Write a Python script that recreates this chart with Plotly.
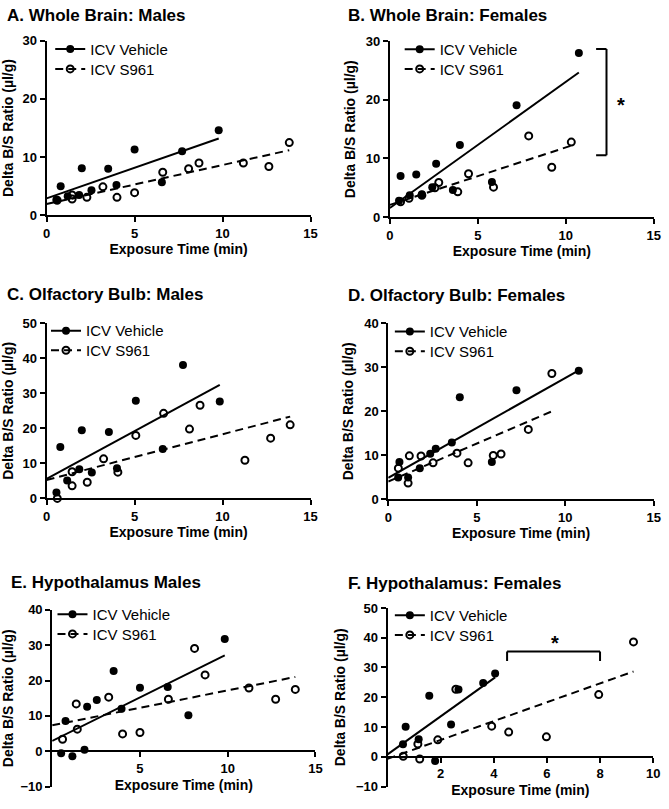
import numpy as np
import plotly.graph_objects as go

W, H = 669, 809
FONT = "Liberation Sans, Arial, sans-serif"

# ---------------- data ----------------
panel_titles = ["A. Whole Brain: Males", "B. Whole Brain: Females",
                "C. Olfactory Bulb: Males", "D. Olfactory Bulb: Females",
                "E. Hypothalamus Males", "F. Hypothalamus: Females"]
series_names = ["ICV Vehicle", "ICV S961"]
x_title = "Exposure Time (min)"
y_title = "Delta B/S Ratio (µl/g)"

# A. Whole brain, males
a_veh_x = [0.56, 0.8, 1.2, 1.85, 2.0, 2.55, 3.5, 3.97, 5.0, 6.55, 7.7, 9.78]
a_veh_y = [2.7, 5.0, 3.3, 3.5, 8.1, 4.3, 8.0, 5.2, 11.3, 5.7, 11.0, 14.6]
a_s961_x = [0.6, 1.45, 1.45, 2.29, 3.2, 4.0, 5.0, 6.6, 8.07, 8.66, 11.18, 12.63, 13.79]
a_s961_y = [2.6, 2.8, 3.5, 3.1, 4.9, 3.1, 3.9, 7.4, 8.0, 9.0, 9.0, 8.4, 12.5]

# B. Whole brain, females
b_veh_x = [0.52, 0.61, 1.13, 1.5, 1.82, 2.41, 2.63, 3.58, 3.98, 5.8, 7.2, 10.74]
b_veh_y = [2.8, 7.0, 3.7, 7.25, 3.9, 5.1, 9.1, 4.6, 12.3, 6.0, 19.1, 28.0]
b_s961_x = [0.61, 1.09, 1.82, 2.56, 2.78, 3.86, 4.47, 5.89, 7.89, 9.2, 10.31]
b_s961_y = [2.6, 3.2, 3.7, 5.0, 5.9, 4.3, 7.4, 5.1, 13.85, 8.5, 12.8]

# C. Olfactory bulb, males
c_veh_x = [0.56, 0.78, 1.17, 1.86, 2.0, 2.57, 3.54, 4.0, 5.07, 6.6, 7.75, 9.84]
c_veh_y = [1.7, 14.7, 5.1, 8.3, 19.5, 7.4, 19.0, 8.6, 27.9, 14.1, 38.1, 27.7]
c_s961_x = [0.61, 1.45, 1.45, 2.31, 3.24, 4.05, 5.07, 6.65, 8.12, 8.72, 11.27, 12.73, 13.84]
c_s961_y = [0.0, 3.6, 7.6, 4.6, 11.3, 7.5, 18.0, 24.3, 19.8, 26.6, 10.9, 17.2, 21.0]

# D. Olfactory bulb, females
d_veh_x = [0.56, 0.63, 1.12, 1.78, 2.37, 2.68, 3.59, 4.04, 5.85, 7.24, 10.76]
d_veh_y = [5.0, 8.5, 5.0, 7.1, 10.35, 11.5, 12.95, 23.2, 8.5, 24.8, 29.2]
d_s961_x = [0.57, 1.12, 1.19, 1.85, 2.53, 3.88, 4.51, 5.93, 6.37, 7.91, 9.24]
d_s961_y = [7.1, 3.7, 9.9, 9.85, 8.3, 10.5, 8.3, 10.0, 10.3, 15.9, 28.6]

# E. Hypothalamus, males
e_veh_x = [0.51, 0.76, 1.15, 1.84, 1.99, 2.54, 3.5, 3.95, 5.0, 6.58, 7.76, 9.83]
e_veh_y = [-0.6, 8.55, -1.4, 0.45, 12.6, 14.5, 22.7, 12.0, 18.0, 18.2, 10.2, 31.8]
e_s961_x = [0.59, 1.37, 1.43, 3.22, 4.01, 5.0, 6.62, 8.11, 8.71, 11.21, 12.73, 13.85]
e_s961_y = [3.4, 13.4, 6.25, 15.3, 4.9, 5.3, 14.7, 29.1, 21.6, 17.9, 14.7, 17.5]

# F. Hypothalamus, females
f_veh_x = [0.58, 0.68, 1.17, 1.57, 1.79, 2.39, 2.67, 3.6, 4.05]
f_veh_y = [4.25, 10.1, 5.9, 20.5, -1.4, 10.85, 22.6, 24.8, 28.0]
f_s961_x = [0.59, 1.14, 1.21, 1.89, 2.57, 3.92, 4.56, 5.98, 7.95, 9.26]
f_s961_y = [0.2, 4.3, -0.75, 5.7, 22.7, 10.3, 8.3, 6.7, 20.9, 38.6]

x_ranges = [[0, 15], [0, 15], [0, 15], [0, 15], [0, 15], [0, 10]]
y_ranges = [[0, 30], [0, 30], [0, 50], [0, 40], [-10, 40], [-10, 50]]
x_tickvals = [[0, 5, 10, 15], [0, 5, 10, 15], [0, 5, 10, 15], [0, 5, 10, 15],
              [5, 10, 15], [2, 4, 6, 8, 10]]
y_tickvals = [[0, 10, 20, 30], [0, 10, 20, 30], [0, 10, 20, 30, 40, 50],
              [0, 10, 20, 30, 40], [-10, 0, 10, 20, 30, 40],
              [-10, 0, 10, 20, 30, 40, 50]]

veh_x = [a_veh_x, b_veh_x, c_veh_x, d_veh_x, e_veh_x, f_veh_x]
veh_y = [a_veh_y, b_veh_y, c_veh_y, d_veh_y, e_veh_y, f_veh_y]
s961_x = [a_s961_x, b_s961_x, c_s961_x, d_s961_x, e_s961_x, f_s961_x]
s961_y = [a_s961_y, b_s961_y, c_s961_y, d_s961_y, e_s961_y, f_s961_y]

# ---------------- layout geometry (pixels) ----------------
# (left, right, top, bottom) of each plot area
boxes = [(43.3, 311.7, 34.3, 212.3), (392.3, 660.7, 35.0, 214.0),
         (43.3, 311.7, 322.3, 500.7), (390.7, 660.7, 322.3, 501.7),
         (49.0, 316.7, 614.3, 794.3), (390.0, 660.0, 612.3, 794.3)]
title_pos = [(1, 9), (348, 9), (1, 293), (348, 294), (5, 586), (348, 587)]
# legend: left edge of legend box (text starts ~40px to the right), row centres
legend_left = [47, 402.3, 42.7, 392.3, 49.3, 392.3]
legend_rows = [(43, 63.3), (43.3, 63.3), (330, 350), (331, 351), (619, 639), (620, 640)]

fig = go.Figure()
layout = dict(width=W, height=H, margin=dict(l=0, r=0, t=0, b=0),
              plot_bgcolor="white", paper_bgcolor="white",
              font=dict(family=FONT, color="black"), annotations=[], shapes=[])

veh_style = dict(marker=dict(symbol="circle", size=8, color="black"))
s961_style = dict(marker=dict(symbol="circle-open", size=7, color="black",
                              line=dict(width=2, color="black")))

leg_count = 0
for i in range(6):
    n = i + 1
    sfx = "" if n == 1 else str(n)
    xa, ya = "x" + sfx, "y" + sfx
    l, r, t, b = boxes[i]
    xdom = [l / W, r / W]
    ydom = [1 - b / H, 1 - t / H]

    for k, (xs, ys, name, style, dash) in enumerate([
        (veh_x[i], veh_y[i], series_names[0], veh_style, "solid"),
        (s961_x[i], s961_y[i], series_names[1], s961_style, "8px,5px"),
    ]):
        slope, icpt = np.polyfit(xs, ys, 1)
        fx = [0, max(xs)]
        fy = [icpt + slope * v for v in fx]
        fig.add_trace(go.Scatter(x=fx, y=fy, mode="lines", xaxis=xa, yaxis=ya,
                                 line=dict(color="black", width=2, dash=dash),
                                 showlegend=False, hoverinfo="skip", cliponaxis=False))
        fig.add_trace(go.Scatter(x=xs, y=ys, mode="markers", xaxis=xa, yaxis=ya,
                                 showlegend=False, cliponaxis=False, name=name, **style))
        # legend entry (one legend per row for exact placement)
        leg_count += 1
        leg = "legend" if leg_count == 1 else "legend%d" % leg_count
        fig.add_trace(go.Scatter(x=[None], y=[None], mode="lines+markers", xaxis=xa, yaxis=ya,
                                 name=name, legend=leg,
                                 line=dict(color="black", width=2, dash=dash), **style))
        layout[leg] = dict(x=legend_left[i] / W, y=1 - legend_rows[i][k] / H,
                           xanchor="left", yanchor="middle",
                           bgcolor="rgba(0,0,0,0)", itemwidth=30,
                           font=dict(family=FONT, size=15, color="black"))

    axis_common = dict(showline=True, linewidth=2, linecolor="black", ticks="outside",
                       ticklen=5, tickwidth=2, tickcolor="black", showgrid=False,
                       zeroline=False, fixedrange=True,
                       tickfont=dict(family=FONT, size=13, weight="bold", color="black"))
    xaxis = dict(domain=xdom, range=x_ranges[i], tickvals=x_tickvals[i],
                 title=dict(text=x_title, standoff=4,
                            font=dict(family=FONT, size=14, weight="bold")),
                 **axis_common)
    y0, y1 = y_ranges[i]
    if y0 < 0:
        xaxis["anchor"] = "free"
        xaxis["position"] = ydom[0] + (0 - y0) / (y1 - y0) * (ydom[1] - ydom[0])
    else:
        xaxis["anchor"] = ya
    yaxis = dict(domain=ydom, range=y_ranges[i], tickvals=y_tickvals[i], anchor=xa,
                 title=dict(text=y_title, standoff=7,
                            font=dict(family=FONT, size=14, weight="bold")),
                 **axis_common)
    layout["xaxis" + sfx] = xaxis
    layout["yaxis" + sfx] = yaxis

    tx, ty = title_pos[i]
    layout["annotations"].append(dict(text=panel_titles[i], x=tx / W, y=1 - ty / H,
                                      xref="paper", yref="paper", xanchor="left",
                                      yanchor="middle", showarrow=False,
                                      font=dict(family=FONT, size=17, weight="bold")))

# significance brackets
br_b = dict(x_in=11.72, x_out=12.31, y_top=28.7, y_bot=10.56, star_x=13.15, star_y=19.2)
for (x0, y0_, x1, y1_) in [(br_b["x_out"], br_b["y_top"], br_b["x_out"], br_b["y_bot"]),
                          (br_b["x_in"], br_b["y_top"], br_b["x_out"], br_b["y_top"]),
                          (br_b["x_in"], br_b["y_bot"], br_b["x_out"], br_b["y_bot"])]:
    layout["shapes"].append(dict(type="line", xref="x2", yref="y2", x0=x0, y0=y0_, x1=x1, y1=y1_,
                                 line=dict(color="black", width=2)))
layout["annotations"].append(dict(text="*", x=br_b["star_x"], y=br_b["star_y"], xref="x2", yref="y2",
                                  showarrow=False, font=dict(family=FONT, size=20, weight="bold")))

br_f = dict(x_l=4.5, x_r=8.0, y_top=35.4, y_bot=32.2, star_x=6.3, star_y=38.3)
for (x0, y0_, x1, y1_) in [(br_f["x_l"], br_f["y_top"], br_f["x_r"], br_f["y_top"]),
                          (br_f["x_l"], br_f["y_top"], br_f["x_l"], br_f["y_bot"]),
                          (br_f["x_r"], br_f["y_top"], br_f["x_r"], br_f["y_bot"])]:
    layout["shapes"].append(dict(type="line", xref="x6", yref="y6", x0=x0, y0=y0_, x1=x1, y1=y1_,
                                 line=dict(color="black", width=2)))
layout["annotations"].append(dict(text="*", x=br_f["star_x"], y=br_f["star_y"], xref="x6", yref="y6",
                                  showarrow=False, font=dict(family=FONT, size=20, weight="bold")))

fig.update_layout(**layout)
fig.write_html("out.html",
               config={"displayModeBar": False, "responsive": False},
               post_script="document.body.style.margin='0px';document.body.style.overflow='hidden';")
